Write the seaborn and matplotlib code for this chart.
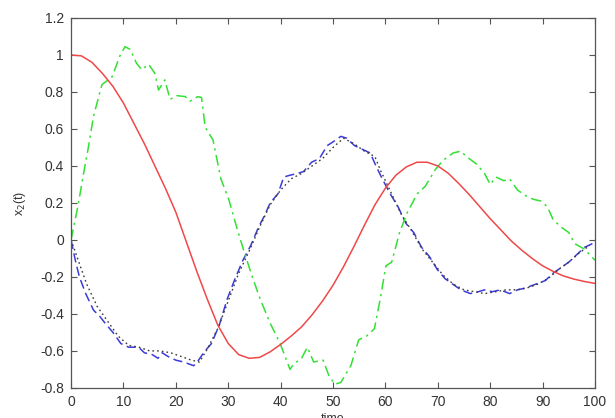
import seaborn as sns
import pandas as pd
import matplotlib
matplotlib.use('Agg')
import matplotlib.pyplot as plt

# red solid curve
t_red = [0, 2, 4, 6, 8, 10, 12, 14, 16, 18, 20, 22, 24, 26, 28, 30, 32, 34, 36, 38,
         40, 42, 44, 46, 48, 50, 52, 54, 56, 58, 60, 62, 64, 66, 68, 70, 72, 74, 76, 78,
         80, 82, 84, 86, 88, 90, 92, 94, 96, 98, 100]
x_red = [1.00, 0.995, 0.96, 0.90, 0.83, 0.74, 0.63, 0.52, 0.40, 0.28, 0.15, -0.01, -0.17,
         -0.32, -0.46, -0.56, -0.62, -0.64, -0.635, -0.605, -0.565, -0.52, -0.47, -0.405,
         -0.33, -0.245, -0.145, -0.035, 0.08, 0.19, 0.28, 0.35, 0.395, 0.42, 0.42, 0.40,
         0.36, 0.305, 0.245, 0.18, 0.115, 0.055, -0.005, -0.055, -0.10, -0.14, -0.17,
         -0.195, -0.212, -0.225, -0.235]

# green dash-dot curve
t_green = [0, 1.3, 2.4, 3.3, 4.3, 5.9, 7.8, 9.4, 10.3, 11.3, 12.5, 13.5, 14.8, 16.0, 16.7,
           17.9, 18.9, 20.2, 21.8, 22.7, 24.2, 24.9, 25.6, 27.1, 28.6, 30.1, 31.6, 33.1,
           34.6, 36.1, 38.0, 39.9, 41.8, 42.5, 44.0, 45.1, 46.3, 48.1, 49.3, 50.4, 51.5,
           53.4, 54.9, 56.4, 57.9, 59.0, 60.1, 61.2, 62.7, 64.2, 66.1, 67.6, 69.5, 71.0,
           72.9, 74.4, 75.5, 77.4, 78.9, 80.0, 81.1, 82.6, 83.7, 85.2, 86.7, 88.2, 89.7,
           90.9, 92.0, 93.5, 95.0, 96.1, 98.0, 100]
x_green = [0.0, 0.18, 0.36, 0.50, 0.67, 0.84, 0.88, 1.00, 1.045, 1.03, 0.955, 0.92, 0.95,
           0.90, 0.81, 0.865, 0.76, 0.78, 0.775, 0.75, 0.775, 0.77, 0.61, 0.54, 0.33, 0.22,
           0.07, -0.07, -0.20, -0.32, -0.45, -0.56, -0.70, -0.67, -0.64, -0.58, -0.66,
           -0.65, -0.74, -0.78, -0.77, -0.68, -0.54, -0.52, -0.48, -0.32, -0.14, -0.12,
           0.04, 0.15, 0.25, 0.29, 0.38, 0.43, 0.47, 0.48, 0.45, 0.41, 0.36, 0.30, 0.34,
           0.32, 0.33, 0.27, 0.24, 0.22, 0.21, 0.18, 0.11, 0.07, 0.04, -0.02, -0.05, -0.11]

# blue dashed curve
t_blue = [0, 0.9, 1.6, 2.8, 4.3, 5.4, 6.5, 8.0, 9.5, 11.0, 12.9, 14.0, 15.5, 16.6, 17.4,
          18.5, 20.0, 21.5, 23.4, 24.1, 25.3, 26.8, 28.3, 29.8, 31.3, 32.8, 34.3, 35.8,
          36.9, 38.0, 39.5, 40.6, 41.8, 43.3, 44.4, 45.9, 47.4, 48.9, 50.0, 51.5, 52.6,
          54.1, 55.6, 57.1, 58.2, 59.4, 60.9, 62.4, 63.9, 65.4, 66.9, 68.4, 69.9, 71.4,
          72.9, 74.4, 76.2, 77.7, 78.9, 80.4, 81.9, 83.7, 85.2, 86.7, 88.6, 90.5, 92.0,
          93.5, 95.0, 96.5, 98.0, 99.5]
x_blue = [0.0, -0.12, -0.20, -0.29, -0.38, -0.41, -0.45, -0.50, -0.56, -0.58, -0.58, -0.61,
          -0.62, -0.64, -0.61, -0.63, -0.65, -0.66, -0.68, -0.66, -0.61, -0.56, -0.46,
          -0.32, -0.21, -0.11, -0.03, 0.07, 0.13, 0.20, 0.25, 0.34, 0.35, 0.36, 0.37, 0.42,
          0.44, 0.51, 0.53, 0.56, 0.55, 0.51, 0.49, 0.47, 0.40, 0.33, 0.25, 0.18, 0.09,
          0.04, -0.04, -0.09, -0.16, -0.21, -0.24, -0.27, -0.29, -0.28, -0.27, -0.28,
          -0.27, -0.29, -0.27, -0.26, -0.24, -0.22, -0.18, -0.15, -0.12, -0.08, -0.04,
          -0.02]

# black dotted curve
t_black = [0, 1.5, 3, 5, 7, 9, 11, 13, 15, 17, 19, 21, 23, 24.5, 26, 28, 30, 32, 34, 36,
           38, 40, 42, 44, 46, 48, 50, 52, 54, 56, 58, 59, 61, 63, 65, 67, 69, 71, 73, 75,
           77, 79, 81, 83, 85, 87, 89, 91, 93, 95, 97, 99]
x_black = [0.0, -0.12, -0.24, -0.36, -0.44, -0.52, -0.57, -0.58, -0.60, -0.60, -0.61, -0.63,
           -0.65, -0.66, -0.59, -0.48, -0.33, -0.18, -0.06, 0.07, 0.19, 0.27, 0.33, 0.36,
           0.40, 0.44, 0.50, 0.55, 0.52, 0.48, 0.45, 0.38, 0.26, 0.14, 0.05, -0.05, -0.12,
           -0.19, -0.24, -0.27, -0.28, -0.29, -0.28, -0.27, -0.27, -0.26, -0.24, -0.21,
           -0.16, -0.12, -0.07, -0.03]

x_ticks = [0, 10, 20, 30, 40, 50, 60, 70, 80, 90, 100]
y_ticks = [-0.8, -0.6, -0.4, -0.2, 0, 0.2, 0.4, 0.6, 0.8, 1, 1.2]
y_tick_labels = ['-0.8', '-0.6', '-0.4', '-0.2', '0', '0.2', '0.4', '0.6', '0.8', '1', '1.2']

sns.set_style('white')
plt.rcParams['font.family'] = ['Liberation Sans', 'DejaVu Sans']

fig = plt.figure(figsize=(6.15, 4.18), dpi=100)
ax = fig.add_axes([0.1155, 0.072, 0.852, 0.885])

sns.lineplot(x=t_blue, y=x_blue, ax=ax, color='#3b3bd8', linewidth=1.1,
             linestyle=(0, (6, 3)), sort=False)
sns.lineplot(x=t_black, y=x_black, ax=ax, color='#3a3a3a', linewidth=1.0,
             linestyle=(0, (1.2, 2.2)), sort=False)
sns.lineplot(x=t_green, y=x_green, ax=ax, color='#33e033', linewidth=1.1,
             linestyle=(0, (7, 3, 1.5, 3)), sort=False)
sns.lineplot(x=t_red, y=x_red, ax=ax, color='#f04848', linewidth=1.1, sort=False)

ax.set_xlim(0, 100)
ax.set_ylim(-0.8, 1.2)
ax.set_xticks(x_ticks)
ax.set_xticklabels([str(v) for v in x_ticks])
ax.set_yticks(y_ticks)
ax.set_yticklabels(y_tick_labels)
ax.tick_params(direction='in', length=4, width=0.8, color='#555555', labelsize=10,
               labelcolor='#333333', top=True, right=True, left=True, bottom=True, pad=5)
for s in ax.spines.values():
    s.set_color('#555555')
    s.set_linewidth(0.9)

# "time" sits at the bottom edge, partly clipped as in the original figure
ax.set_xlabel('time', fontsize=9, color='#333333', labelpad=3)
ax.set_ylabel(r'x$_2$(t)', fontsize=9, color='#333333', labelpad=9)

fig.savefig('out.png', dpi=100)
